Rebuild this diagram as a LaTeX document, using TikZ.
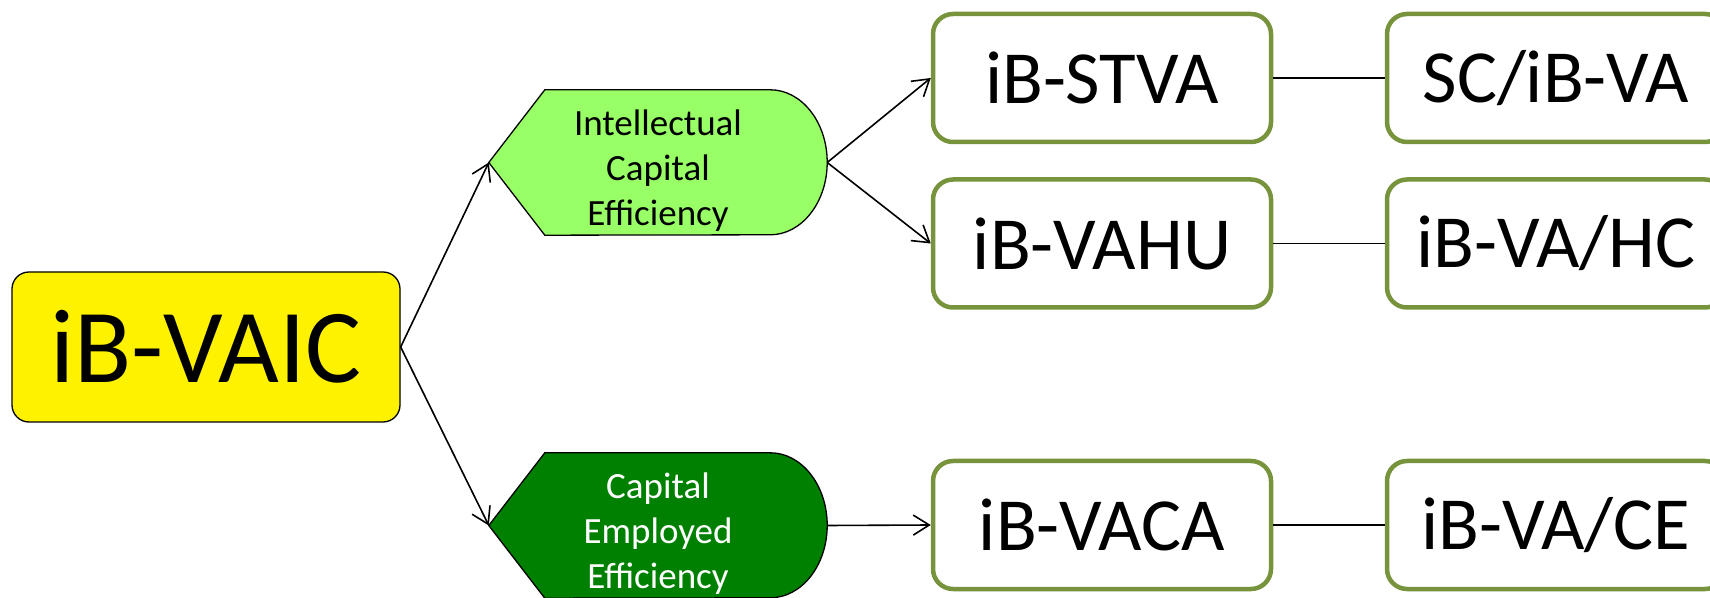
\documentclass[tikz,border=0pt]{standalone}
\usepackage{fontspec}
\setmainfont{Carlito}
\usetikzlibrary{arrows.meta,backgrounds}

\definecolor{icgreen}{HTML}{99FF66}
\definecolor{cegreen}{HTML}{008000}
\definecolor{boxolive}{HTML}{77933C}

\begin{document}
\begin{tikzpicture}[x=1pt, y=1pt, >={Straight Barb[length=16pt,width=20pt]}]
  \useasboundingbox (0,0) rectangle (1710,597);

  \tikzset{
    root/.style = {draw, fill=yellow, line width=1.3pt, rounded corners=17pt,
      minimum width=388pt, minimum height=150pt, inner sep=0pt,
      font=\fontsize{105}{120}\selectfont},
    effbox/.style = {minimum width=338pt, minimum height=145pt, inner sep=0pt,
      align=center, text height=132pt, font=\fontsize{37}{45}\selectfont},
    ratio/.style = {draw=boxolive, fill=white, line width=4.5pt, rounded corners=20pt,
      minimum width=338pt, minimum height=128pt, inner sep=0pt,
      font=\fontsize{75}{90}\selectfont},
    link/.style = {->, line width=1.6pt},
    tie/.style = {line width=1.6pt},
  }

  % left: the index itself
  \node[root] (vaic) at (206,250) {iB-VAIC};

  % the two efficiencies
  \node[effbox] (ice) at (658,434.5) {Intellectual\\Capital\\Efficiency};
  \node[effbox, text=white] (cee) at (658,71.5) {Capital\\Employed\\Efficiency};

  \begin{scope}[on background layer]
    \foreach \n/\c in {ice/icgreen, cee/cegreen}{
        \draw[line width=1.3pt, fill=\c] (\n.west) -- ([xshift=56pt]\n.north west)
          -- ([xshift=-57pt]\n.north east)
          arc[start angle=90, end angle=-90, x radius=57pt, y radius=72.5pt]
          -- ([xshift=56pt]\n.south west) -- cycle;
      }
  \end{scope}

  % components and ratios
  \node[ratio] (stva) at (1102,519) {iB-STVA};
  \node[ratio] (vahu) at (1102,353.5) {iB-VAHU};
  \node[ratio] (vaca) at (1102,72) {iB-VACA};

  \node[ratio] (scva) at (1556,519) {SC/iB-VA};
  \node[ratio] (vahc) at (1556,353.5) {iB-VA/HC};
  \node[ratio] (vace) at (1556,72) {iB-VA/CE};

  \draw[link] (vaic.east) -- (ice.west);
  \draw[link] (vaic.east) -- (cee.west);
  \draw[link] (ice.east) -- (stva.west);
  \draw[link] (ice.east) -- (vahu.west);
  \draw[link] (cee.east) -- (vaca.west);

  \draw[tie] (stva) -- (scva);
  \draw[tie] (vahu) -- (vahc);
  \draw[tie] (vaca) -- (vace);

\end{tikzpicture}
\end{document}
